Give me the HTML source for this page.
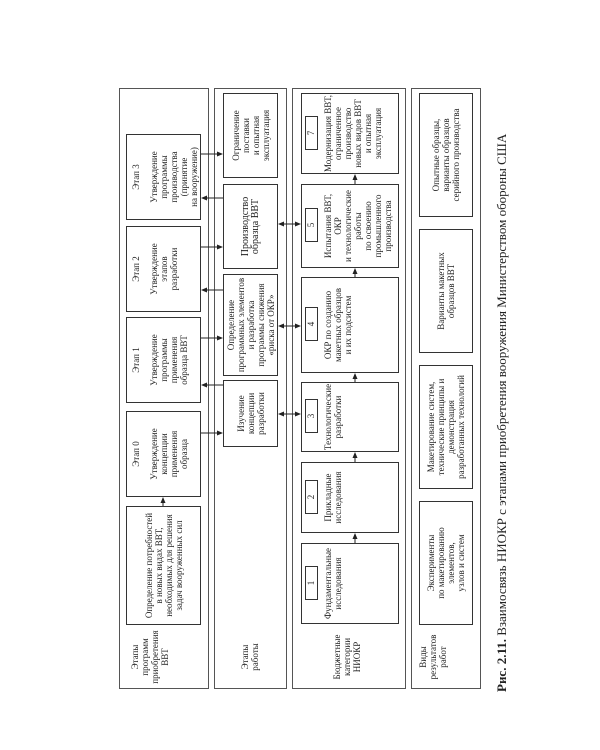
<!DOCTYPE html>
<html><head><meta charset="utf-8">
<style>
html,body{margin:0;padding:0;background:#fff;}
body{width:600px;height:750px;position:relative;overflow:hidden;}
#c{position:absolute;left:0;top:0;width:750px;height:600px;transform-origin:0 0;transform:translate(0,750px) rotate(-90deg);font-family:"Liberation Serif",serif;color:#222;}
.p{position:absolute;border:1px solid #555;box-sizing:border-box;}
.b{position:absolute;border:1px solid #333;box-sizing:border-box;text-align:center;font-size:9px;line-height:10px;}
.t{padding-top:4px;}
.f{display:flex;align-items:center;justify-content:center;}
.n{position:absolute;top:3px;width:34px;height:13px;border:1px solid #333;box-sizing:border-box;font-size:9px;line-height:11px;text-align:center;}
.bt{position:absolute;left:0;right:0;top:21px;}
.lab{position:absolute;text-align:center;font-size:9px;line-height:10px;width:62px;left:62px;}
.e{display:block;margin-bottom:8px;}
#cap{position:absolute;left:58px;top:494px;width:560px;font-size:13px;white-space:nowrap;}
svg{position:absolute;left:0;top:0;}
</style></head><body>
<div id="c">
<div class="p" style="left:61px;top:119px;width:601px;height:90px"></div>
<div class="p" style="left:61px;top:214px;width:601px;height:73px"></div>
<div class="p" style="left:61px;top:292px;width:601px;height:114px"></div>
<div class="p" style="left:61px;top:411px;width:601px;height:70px"></div>

<div class="lab" style="top:130px">Этапы<br>программ<br>приобретения<br>ВВТ</div>
<div class="lab" style="top:240px">Этапы<br>работы</div>
<div class="lab" style="top:332px">Бюджетные<br>категории<br>НИОКР</div>
<div class="lab" style="top:418px">Виды<br>результатов<br>работ</div>

<div class="b t" style="left:530px;top:126px;width:86px;height:75px"><span class="e">Этап 3</span>Утверждение<br>программы<br>производства<br>(принятие<br>на вооружение)</div>
<div class="b t" style="left:438px;top:126px;width:86px;height:75px"><span class="e">Этап 2</span>Утверждение<br>этапов<br>разработки</div>
<div class="b t" style="left:347px;top:126px;width:86px;height:75px"><span class="e">Этап 1</span>Утверждение<br>программы<br>применения<br>образца ВВТ</div>
<div class="b t" style="left:253px;top:126px;width:86px;height:75px"><span class="e">Этап 0</span>Утверждение<br>концепции<br>применения<br>образца</div>
<div class="b f" style="left:125px;top:126px;width:119px;height:75px">Определение потребностей<br>в новых видах ВВТ,<br>необходимых для решения<br>задач вооруженных сил</div>

<div class="b f" style="left:572px;top:223px;width:85px;height:55px">Ограничение<br>поставки<br>и опытная<br>эксплуатация</div>
<div class="b f" style="left:481px;top:223px;width:85px;height:55px;font-size:10px">Производство<br>образца ВВТ</div>
<div class="b f" style="left:374px;top:223px;width:102px;height:55px">Определение<br>программных элементов<br>и разработка<br>программы снижения<br>«риска от ОКР»</div>
<div class="b f" style="left:303px;top:223px;width:67px;height:55px">Изучение<br>концепции<br>разработки</div>

<div class="b" style="left:576px;top:301px;width:81px;height:98px"><div class="n" style="left:23px">7</div><div class="bt">Модернизация ВВТ,<br>ограниченное<br>производство<br>новых видов ВВТ<br>и опытная<br>эксплуатация</div></div>
<div class="b" style="left:482px;top:301px;width:84px;height:98px"><div class="n" style="left:25px">5</div><div class="bt">Испытания ВВТ,<br>ОКР<br>и технологические<br>работы<br>по освоению<br>промышленного<br>производства</div></div>
<div class="b" style="left:377px;top:301px;width:96px;height:98px"><div class="n" style="left:31px">4</div><div class="bt">ОКР по созданию<br>макетных образцов<br>и их подсистем</div></div>
<div class="b" style="left:298px;top:301px;width:70px;height:98px"><div class="n" style="left:18px">3</div><div class="bt">Технологические<br>разработки</div></div>
<div class="b" style="left:217px;top:301px;width:71px;height:98px"><div class="n" style="left:18px">2</div><div class="bt">Прикладные<br>исследования</div></div>
<div class="b" style="left:126px;top:301px;width:81px;height:98px"><div class="n" style="left:23px">1</div><div class="bt">Фундаментальные<br>исследования</div></div>

<div class="b f" style="left:533px;top:419px;width:124px;height:54px">Опытные образцы,<br>варианты образцов<br>серийного производства</div>
<div class="b f" style="left:397px;top:419px;width:124px;height:54px">Варианты макетных<br>образцов ВВТ</div>
<div class="b f" style="left:261px;top:419px;width:124px;height:54px">Макетирование систем,<br>технические принципы и<br>демонстрация<br>разработанных технологий</div>
<div class="b f" style="left:125px;top:419px;width:124px;height:54px">Эксперименты<br>по макетированию<br>элементов,<br>узлов и систем</div>

<div id="cap"><b>Рис. 2.11.</b> Взаимосвязь НИОКР с этапами приобретения вооружения Министерством обороны США</div>

<svg width="750" height="600" viewBox="0 0 750 600">
<defs><marker id="a" markerWidth="6" markerHeight="6" refX="5" refY="3" orient="auto"><path d="M0,0.5 L6,3 L0,5.5 Z" fill="#222"/></marker></defs>
<g stroke="#222" stroke-width="1" fill="none">
<line x1="596" y1="201" x2="596" y2="222" marker-end="url(#a)"/>
<line x1="552" y1="223" x2="552" y2="202" marker-end="url(#a)"/>
<line x1="503" y1="201" x2="503" y2="222" marker-end="url(#a)"/>
<line x1="460" y1="223" x2="460" y2="202" marker-end="url(#a)"/>
<line x1="412" y1="201" x2="412" y2="222" marker-end="url(#a)"/>
<line x1="365" y1="223" x2="365" y2="202" marker-end="url(#a)"/>
<line x1="317" y1="201" x2="317" y2="222" marker-end="url(#a)"/>
<line x1="526" y1="289" x2="526" y2="300" marker-end="url(#a)"/><line x1="526" y1="290" x2="526" y2="279" marker-end="url(#a)"/>
<line x1="424" y1="289" x2="424" y2="300" marker-end="url(#a)"/><line x1="424" y1="290" x2="424" y2="279" marker-end="url(#a)"/>
<line x1="336" y1="289" x2="336" y2="300" marker-end="url(#a)"/><line x1="336" y1="290" x2="336" y2="279" marker-end="url(#a)"/>
<line x1="244" y1="163" x2="252" y2="163" marker-end="url(#a)"/>
<line x1="207" y1="355" x2="216" y2="355" marker-end="url(#a)"/>
<line x1="288" y1="355" x2="297" y2="355" marker-end="url(#a)"/>
<line x1="368" y1="355" x2="376" y2="355" marker-end="url(#a)"/>
<line x1="473" y1="355" x2="481" y2="355" marker-end="url(#a)"/>
<line x1="566" y1="355" x2="575" y2="355" marker-end="url(#a)"/>
</g></svg>
</div>
</body></html>
